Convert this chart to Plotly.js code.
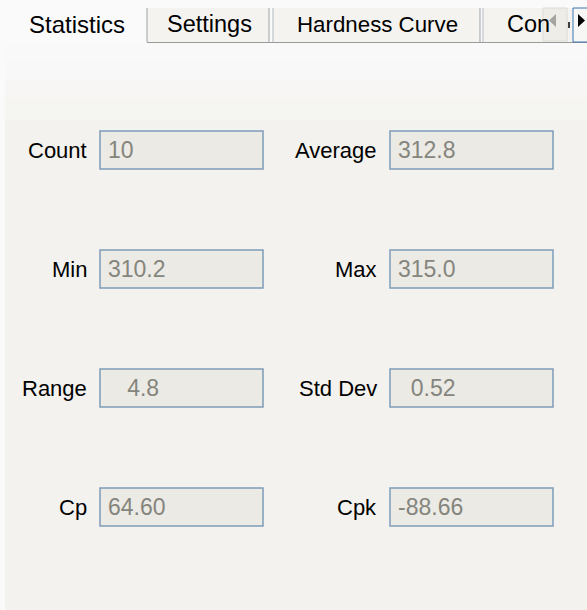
<!DOCTYPE html>
<html>
<head>
<meta charset="utf-8">
<script src="https://cdn.plot.ly/plotly-3.0.1.min.js"></script>
<style>html,body{margin:0;padding:0;background:#fafafb;}#chart{width:587px;height:610px;}</style>
</head>
<body>
<div id="chart"></div>
<script>
// ---- data ----
var tabNames = ["Statistics", "Settings", "Hardness Curve", "Con"];
var statLabels = ["Count", "Average", "Min", "Max", "Range", "Std Dev", "Cp", "Cpk"];
var statValues = ["10", "312.8", "310.2", "315.0", "   4.8", "  0.52", "64.60", "-88.66"];

// ---- layout helpers ----
var FONT = "Liberation Sans, Arial, sans-serif";
var shapes = [];
var annotations = [];

function rect(x0, y0, x1, y1, fill, lineColor, lineWidth) {
  shapes.push({type: "rect", xref: "x", yref: "y", x0: x0, y0: y0, x1: x1, y1: y1,
    fillcolor: fill, line: {color: lineColor || fill, width: lineWidth === undefined ? 0 : lineWidth}, layer: "below"});
}
function line(x0, y0, x1, y1, color, w) {
  shapes.push({type: "line", xref: "x", yref: "y", x0: x0, y0: y0, x1: x1, y1: y1,
    line: {color: color, width: w || 1}, layer: "below"});
}
function path(p, fill) {
  shapes.push({type: "path", xref: "x", yref: "y", path: p, fillcolor: fill, line: {width: 0}, layer: "above"});
}
function text(x, y, t, anchor, color, size) {
  annotations.push({xref: "x", yref: "y", x: x, y: y, text: t.replace(/ /g, "\u00a0"),
    showarrow: false, xanchor: anchor, yanchor: "middle",
    font: {family: FONT, size: size, color: color}});
}

// panel background with soft gradient at the top
rect(5, 43, 590, 612, "#f3f2ee");
rect(5, 43, 590, 60, "#f9f9fa");
rect(5, 60, 590, 80, "#f8f8f8");
rect(5, 80, 590, 100, "#f7f6f5");
rect(5, 100, 590, 120, "#f5f5f2");

// tab strip
var tabBoxes = [[0, 147], [147, 269], [273, 480], [483, 600]];
var tabCenters = [77, 209, 377, 505];
var tabSizes = [24, 23.5, 22.3, 23.5];
for (var t = 1; t < tabNames.length; t++) {
  var b = tabBoxes[t];
  rect(b[0], 8, b[1], 42, "#f4f3ef");
  line(b[0], 8, b[0], 42, t === 1 ? "#9aa3a8" : "#b4bcc4", 1);
  line(b[1], 8, b[1], 42, "#9aa3a8", 1);
  text(tabCenters[t], 24, tabNames[t], t === 3 ? "left" : "center", "#000000", tabSizes[t]);
}
text(tabCenters[0], 24, tabNames[0], "center", "#000000", tabSizes[0]);
line(147, 42.5, 590, 42.5, "#9a9a9a", 1);

// scroll buttons
shapes.push({type: "rect", xref: "x", yref: "y", x0: 543, y0: 8, x1: 567, y1: 41,
  fillcolor: "#eeede8", line: {color: "#dcdbd6", width: 1}, layer: "above"});
path("M 556 14 L 556 27 L 549 20.5 Z", "#a4a4a0");
line(569, 22, 569, 28, "#000000", 1.5);
shapes.push({type: "rect", xref: "x", yref: "y", x0: 573, y0: 8, x1: 590, y1: 42,
  fillcolor: "#f7f7f5", line: {color: "#3c74b4", width: 1}, layer: "above"});
path("M 578 14 L 578 27 L 585 20.5 Z", "#000000");

// statistic fields
for (var i = 0; i < statLabels.length; i++) {
  var col = i % 2, row = Math.floor(i / 2);
  var bx = col === 0 ? 100 : 390;
  var by = 131 + row * 119;
  rect(bx, by, bx + 163, by + 38, "#ebeae4", "#7f9db9", 1.5);
  text(bx - 11, by + 19, statLabels[i], "right", "#000000", 22);
  text(bx + 6, by + 19, statValues[i], "left", "#85857d", 23);
}

var layout = {
  width: 587, height: 610,
  margin: {l: 0, r: 0, t: 0, b: 0},
  paper_bgcolor: "#fafafb", plot_bgcolor: "#fafafb",
  showlegend: false,
  xaxis: {range: [0, 587], visible: false, fixedrange: true},
  yaxis: {range: [610, 0], visible: false, fixedrange: true},
  shapes: shapes,
  annotations: annotations
};
Plotly.newPlot("chart", [{type: "scatter", x: [], y: [], mode: "markers"}], layout,
  {displayModeBar: false, staticPlot: true});
</script>
</body>
</html>
